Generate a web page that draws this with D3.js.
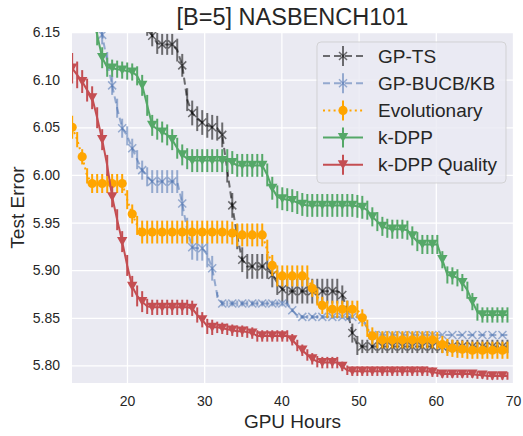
<!DOCTYPE html>
<html><head><meta charset="utf-8">
<script src="https://cdn.jsdelivr.net/npm/d3@7"></script>
<style>
body{margin:0;background:#fff}
svg{display:block;font-family:Arial,"Liberation Sans",sans-serif}
</style>
</head><body>
<svg id="chart" width="523" height="436"></svg>
<script>
// ---------------- data ----------------
const title = "[B=5] NASBENCH101";
const xLabel = "GPU Hours";
const yLabel = "Test Error";
const xTicks = [20, 30, 40, 50, 60, 70];
const yTicks = [5.80, 5.85, 5.90, 5.95, 6.00, 6.05, 6.10, 6.15];
const seriesNames = ["GP-TS", "GP-BUCB/KB", "Evolutionary", "k-DPP", "k-DPP Quality"];

const hours = [12.90,13.55,14.20,14.84,15.49,16.14,16.79,17.44,18.08,18.73,
 19.38,20.03,20.68,21.32,21.97,22.62,23.27,23.92,24.56,25.21,
 25.86,26.51,27.16,27.80,28.45,29.10,29.75,30.40,31.04,31.69,
 32.34,32.99,33.64,34.28,34.93,35.58,36.23,36.88,37.52,38.17,
 38.82,39.47,40.12,40.76,41.41,42.06,42.71,43.36,44.00,44.65,
 45.30,45.95,46.60,47.24,47.89,48.54,49.19,49.84,50.48,51.13,
 51.78,52.43,53.08,53.72,54.37,55.02,55.67,56.32,56.96,57.61,
 58.26,58.91,59.56,60.20,60.85,61.50,62.15,62.80,63.44,64.09,
 64.74,65.39,66.04,66.68,67.33,67.98,68.63,69.28];

const gpTS = [null,null,null,null,null,null,null,null,null,null,
 null,null,null,null,6.173,6.157,6.146,6.138,6.137,6.137,
 6.137,6.131,6.115,6.079,6.065,6.059,6.055,6.052,6.050,6.049,
 6.042,6.005,5.968,5.935,5.911,5.904,5.904,5.904,5.904,5.904,
 5.895,5.887,5.880,5.878,5.878,5.878,5.878,5.878,5.878,5.878,
 5.878,5.878,5.878,5.878,5.874,5.858,5.834,5.821,5.820,5.820,
 5.820,5.820,5.820,5.820,5.820,5.820,5.820,5.820,5.820,5.820,
 5.820,5.820,5.820,5.820,5.820,5.820,5.820,5.820,5.820,5.820,
 5.820,5.820,5.820,5.820,5.820,5.820,5.820,5.820];
const gpTSErr = [null,null,null,null,null,null,null,null,null,null,
 null,null,null,null,0.011,0.011,0.011,0.011,0.011,0.011,
 0.011,0.012,0.012,0.012,0.013,0.013,0.013,0.013,0.013,0.013,
 0.013,0.013,0.013,0.013,0.013,0.013,0.013,0.013,0.013,0.013,
 0.013,0.013,0.013,0.013,0.013,0.013,0.013,0.013,0.013,0.013,
 0.013,0.013,0.013,0.013,0.010,0.010,0.010,0.010,0.007,0.007,
 0.007,0.007,0.007,0.007,0.007,0.007,0.007,0.007,0.007,0.007,
 0.007,0.007,0.007,0.007,0.007,0.007,0.007,0.007,0.007,0.007,
 0.007,0.007,0.007,0.007,0.007,0.007,0.007,0.007];

const gpBUCB = [null,null,null,null,null,6.173,6.147,6.119,6.094,6.070,
 6.049,6.041,6.028,6.016,6.005,5.998,5.993,5.993,5.993,5.993,
 5.993,5.993,5.970,5.942,5.924,5.923,5.923,5.916,5.902,5.874,
 5.865,5.865,5.865,5.865,5.865,5.865,5.865,5.865,5.865,5.865,
 5.865,5.865,5.865,5.865,5.858,5.852,5.851,5.851,5.851,5.851,
 5.851,5.851,5.851,5.851,5.851,5.851,5.851,5.851,5.848,5.839,
 5.832,5.832,5.832,5.832,5.832,5.832,5.832,5.832,5.832,5.832,
 5.832,5.832,5.832,5.832,5.832,5.832,5.832,5.832,5.832,5.832,
 5.832,5.832,5.832,5.832,5.832,5.832,5.832,5.832];
const gpBUCBErr = [null,null,null,null,null,0.010,0.010,0.010,0.010,0.010,
 0.010,0.010,0.010,0.010,0.010,0.010,0.012,0.012,0.012,0.012,
 0.012,0.012,0.013,0.013,0.013,0.013,0.013,0.013,0.013,0.003,
 0.003,0.003,0.003,0.003,0.003,0.003,0.003,0.003,0.003,0.003,
 0.003,0.003,0.003,0.003,0.002,0.002,0.002,0.002,0.002,0.002,
 0.002,0.002,0.002,0.002,0.002,0.002,0.002,0.002,0.003,0.003,
 0.003,0.003,0.003,0.003,0.003,0.003,0.003,0.003,0.003,0.003,
 0.003,0.003,0.003,0,0,0,0,0,0,0,
 0,0,0,0,0,0,0,0];

const evolutionary = [6.050,6.037,6.019,5.999,5.991,5.991,5.991,5.991,5.991,5.991,
 5.991,5.974,5.959,5.947,5.940,5.940,5.940,5.940,5.940,5.940,
 5.940,5.940,5.940,5.940,5.940,5.940,5.940,5.940,5.940,5.940,
 5.940,5.940,5.939,5.937,5.937,5.937,5.937,5.937,5.937,5.921,
 5.905,5.894,5.894,5.894,5.894,5.894,5.894,5.894,5.881,5.872,
 5.863,5.859,5.859,5.859,5.859,5.859,5.859,5.859,5.850,5.839,
 5.831,5.827,5.827,5.827,5.827,5.827,5.827,5.827,5.827,5.827,
 5.827,5.827,5.827,5.826,5.822,5.819,5.818,5.817,5.817,5.816,
 5.816,5.816,5.816,5.816,5.816,5.816,5.816,5.816];
const evolutionaryErr = [0.012,0.008,0.008,0.008,0.010,0.010,0.010,0.010,0.010,0.010,
 0.010,0.010,0.010,0.010,0.012,0.012,0.012,0.012,0.012,0.012,
 0.012,0.012,0.012,0.012,0.012,0.012,0.012,0.012,0.012,0.012,
 0.012,0.012,0.012,0.012,0.012,0.012,0.012,0.012,0.012,0.011,
 0.011,0.011,0.011,0.011,0.011,0.011,0.011,0.011,0.009,0.009,
 0.009,0.009,0.009,0.009,0.009,0.009,0.009,0.009,0.009,0.009,
 0.009,0.009,0.009,0.009,0.009,0.009,0.009,0.009,0.009,0.009,
 0.009,0.009,0.009,0.009,0.009,0.009,0.009,0.009,0.009,0.009,
 0.009,0.009,0.009,0.009,0.009,0.009,0.009,0.009];

const kDPP = [null,null,null,null,6.168,6.147,6.123,6.113,6.112,6.111,
 6.110,6.109,6.108,6.104,6.094,6.073,6.052,6.048,6.045,6.042,
 6.037,6.028,6.021,6.017,6.015,6.015,6.015,6.015,6.015,6.015,
 6.015,6.015,6.013,6.010,6.010,6.010,6.010,6.010,6.010,6.000,
 5.986,5.977,5.975,5.974,5.973,5.971,5.969,5.968,5.968,5.968,
 5.968,5.968,5.968,5.968,5.968,5.968,5.968,5.967,5.966,5.963,
 5.956,5.951,5.946,5.944,5.943,5.943,5.943,5.942,5.936,5.930,
 5.927,5.927,5.927,5.927,5.911,5.895,5.894,5.892,5.887,5.879,
 5.867,5.856,5.853,5.853,5.853,5.853,5.853,5.853];
const kDPPErr = [null,null,null,null,0.011,0.011,0.011,0.010,0.009,0.009,
 0.009,0.009,0.009,0.010,0.011,0.011,0.011,0.011,0.011,0.011,
 0.011,0.011,0.011,0.011,0.012,0.012,0.012,0.012,0.012,0.012,
 0.012,0.012,0.012,0.012,0.012,0.012,0.012,0.012,0.012,0.012,
 0.012,0.012,0.012,0.012,0.012,0.012,0.012,0.012,0.012,0.012,
 0.012,0.012,0.012,0.012,0.012,0.012,0.012,0.012,0.012,0.010,
 0.010,0.010,0.010,0.010,0.010,0.010,0.010,0.010,0.010,0.010,
 0.010,0.010,0.010,0.010,0.009,0.009,0.009,0.009,0.009,0.009,
 0.009,0.009,0.008,0.008,0.008,0.008,0.008,0.008];

const kDPPQuality = [6.112,6.105,6.098,6.089,6.081,6.060,6.037,6.010,5.977,5.953,
 5.930,5.905,5.883,5.873,5.867,5.862,5.861,5.861,5.861,5.861,
 5.861,5.861,5.861,5.861,5.860,5.853,5.848,5.841,5.840,5.840,
 5.839,5.838,5.837,5.836,5.836,5.835,5.834,5.831,5.831,5.831,
 5.831,5.831,5.831,5.831,5.827,5.821,5.816,5.811,5.807,5.804,
 5.803,5.803,5.803,5.803,5.799,5.795,5.794,5.794,5.794,5.794,
 5.794,5.794,5.794,5.794,5.794,5.794,5.794,5.794,5.794,5.794,
 5.794,5.794,5.793,5.792,5.791,5.791,5.791,5.791,5.791,5.791,
 5.791,5.790,5.790,5.789,5.789,5.789,5.789,5.789];
const kDPPQualityErr = [0.016,0.014,0.012,0.012,0.012,0.011,0.011,0.011,0.011,0.011,
 0.011,0.011,0.011,0.011,0.011,0.008,0.008,0.008,0.008,0.008,
 0.008,0.008,0.008,0.008,0.008,0.008,0.008,0.008,0.008,0.006,
 0.006,0.006,0.006,0.006,0.006,0.006,0.006,0.006,0.006,0.006,
 0.006,0.006,0.006,0.006,0.006,0.006,0.006,0.006,0.006,0.006,
 0.006,0.006,0.006,0.006,0.005,0.005,0.005,0.005,0.005,0.005,
 0.005,0.005,0.005,0.005,0.005,0.005,0.005,0.005,0.005,0.005,
 0.005,0.005,0.005,0.004,0.004,0.004,0.004,0.004,0.004,0.004,
 0.004,0.004,0.004,0.004,0.004,0.004,0.004,0.004];

// ---------------- chart ----------------
const svg = d3.select("#chart");
const P = {l: 72, r: 513, t: 32, b: 383};
const x = d3.scaleLinear().domain([12.88, 70]).range([P.l, P.r]);
const y = d3.scaleLinear().domain([5.7816, 6.15]).range([P.b, P.t]);
const TXT = "#262626";

svg.append("rect").attr("x", 0).attr("y", 0).attr("width", 523).attr("height", 436).attr("fill", "#fff");
svg.append("rect").attr("x", P.l).attr("y", P.t).attr("width", P.r - P.l).attr("height", P.b - P.t).attr("fill", "#EAEAF2");

svg.append("defs").append("clipPath").attr("id", "clip")
  .append("rect").attr("x", P.l).attr("y", P.t).attr("width", P.r - P.l).attr("height", P.b - P.t);

// axes + grid
const gx = svg.append("g").attr("transform", `translate(0,${P.b})`)
  .call(d3.axisBottom(x).tickValues(xTicks).tickSize(-(P.b - P.t)).tickPadding(13).tickFormat(d3.format("d")));
const gy = svg.append("g").attr("transform", `translate(${P.l},0)`)
  .call(d3.axisLeft(y).tickValues(yTicks).tickSize(-(P.r - P.l)).tickPadding(12).tickFormat(d3.format(".2f")));
[gx, gy].forEach(g => {
  g.select(".domain").remove();
  g.selectAll(".tick line").attr("stroke", "#fff").attr("stroke-width", 1.3);
  g.selectAll(".tick text").attr("fill", TXT).style("font-size", "14px").style("font-family", "Arial, 'Liberation Sans', sans-serif");
});

const series = [
  {name: seriesNames[0], values: gpTS, errors: gpTSErr, color: "#000000", opacity: 0.55, dash: "7,4", marker: "x"},
  {name: seriesNames[1], values: gpBUCB, errors: gpBUCBErr, color: "#4C72B0", opacity: 0.55, dash: "7,4", marker: "x"},
  {name: seriesNames[2], values: evolutionary, errors: evolutionaryErr, color: "#FFA500", opacity: 1, dash: "2,3.3", marker: "o"},
  {name: seriesNames[3], values: kDPP, errors: kDPPErr, color: "#55A868", opacity: 1, dash: null, marker: "v"},
  {name: seriesNames[4], values: kDPPQuality, errors: kDPPQualityErr, color: "#C44E52", opacity: 1, dash: null, marker: "v"}
];

function drawMarker(g, type, cx, cy, color, op) {
  if (type === "x") {
    const s = 4;
    g.append("path").attr("d", `M${cx - s},${cy - s}L${cx + s},${cy + s}M${cx - s},${cy + s}L${cx + s},${cy - s}`)
      .attr("stroke", color).attr("stroke-opacity", op).attr("stroke-width", 1.5).attr("fill", "none");
  } else if (type === "o") {
    g.append("circle").attr("cx", cx).attr("cy", cy).attr("r", 4.6).attr("fill", color).attr("fill-opacity", op);
  } else {
    const w = 5.2, h = 4.6;
    g.append("path").attr("d", `M${cx - w},${cy - h}L${cx + w},${cy - h}L${cx},${cy + h}Z`)
      .attr("fill", color).attr("fill-opacity", op);
  }
}

const plot = svg.append("g").attr("clip-path", "url(#clip)");
series.forEach(s => {
  const pts = hours.map((h, i) => ({h, v: s.values[i], e: s.errors[i], i})).filter(d => d.v != null);
  const g = plot.append("g");
  g.selectAll("line.err").data(pts).enter().append("line")
    .attr("x1", d => x(d.h)).attr("x2", d => x(d.h))
    .attr("y1", d => y(d.v - d.e)).attr("y2", d => y(d.v + d.e))
    .attr("stroke", s.color).attr("stroke-opacity", s.opacity).attr("stroke-width", 2);
  const line = d3.line().x(d => x(d.h)).y(d => y(d.v));
  g.append("path").datum(pts).attr("d", line)
    .attr("fill", "none").attr("stroke", s.color).attr("stroke-opacity", s.opacity)
    .attr("stroke-width", 2).attr("stroke-dasharray", s.dash);
  pts.filter(d => d.i % 2 === 0).forEach(d => drawMarker(g, s.marker, x(d.h), y(d.v), s.color, s.opacity));
});

// legend
const L = {x: 317, y: 42, w: 189, h: 141};
const lg = svg.append("g");
lg.append("rect").attr("x", L.x).attr("y", L.y).attr("width", L.w).attr("height", L.h).attr("rx", 4)
  .attr("fill", "#EAEAF2").attr("fill-opacity", 0.8).attr("stroke", "#cccccc").attr("stroke-opacity", 0.8).attr("stroke-width", 1);
series.forEach((s, k) => {
  const cy = 56 + k * 27.2;
  lg.append("line").attr("x1", 343).attr("x2", 343).attr("y1", cy - 10).attr("y2", cy + 10)
    .attr("stroke", s.color).attr("stroke-opacity", s.opacity).attr("stroke-width", 2);
  lg.append("line").attr("x1", 323).attr("x2", 363).attr("y1", cy).attr("y2", cy)
    .attr("stroke", s.color).attr("stroke-opacity", s.opacity).attr("stroke-width", 2).attr("stroke-dasharray", s.dash);
  drawMarker(lg, s.marker, 343, cy, s.color, s.opacity);
  lg.append("text").attr("x", 378).attr("y", cy).attr("dy", "0.35em").attr("fill", TXT)
    .style("font-size", "19px").text(s.name);
});

// titles
svg.append("text").attr("x", (P.l + P.r) / 2).attr("y", 25).attr("text-anchor", "middle")
  .attr("fill", TXT).style("font-size", "23.5px").text(title);
svg.append("text").attr("x", (P.l + P.r) / 2).attr("y", 428).attr("text-anchor", "middle")
  .attr("fill", TXT).style("font-size", "19px").text(xLabel);
svg.append("text").attr("transform", `translate(24,${(P.t + P.b) / 2}) rotate(-90)`).attr("text-anchor", "middle")
  .attr("fill", TXT).style("font-size", "19px").text(yLabel);
</script>
</body></html>
